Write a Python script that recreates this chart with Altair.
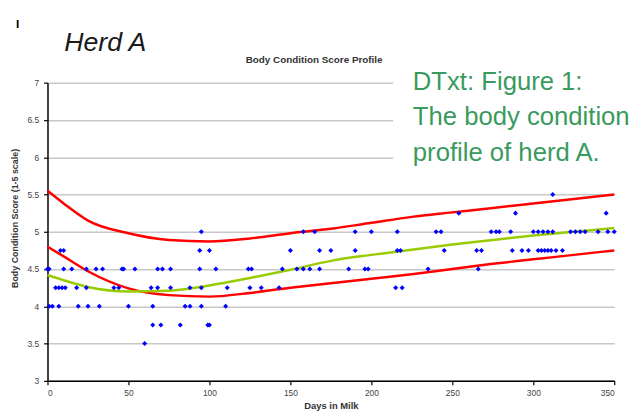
import altair as alt
import pandas as pd

# ---- data ----
pts_55 = [312]
pts_525 = [254, 289, 345]
pts_50 = [95, 158, 165, 190, 200, 216, 240, 243, 274, 277, 279, 286, 300, 303, 306,
          309, 312, 323, 326, 329, 332, 340, 346, 350]
pts_475 = [8, 10, 94, 100, 150, 168, 175, 190, 216, 218, 245, 265, 268, 287, 293, 297,
           303, 305, 307, 309, 311, 314, 318]
pts_45 = [0, 1, 10, 15, 24, 30, 34, 46, 47, 54, 68, 71, 76, 94, 104, 124, 126, 145, 154,
          158, 162, 168, 186, 196, 198, 235, 266]
pts_425 = [5, 7, 9, 11, 18, 24, 41, 44, 64, 68, 76, 88, 95, 111, 125, 132, 143, 215, 219]
pts_40 = [1, 3, 7, 19, 25, 32, 50, 65, 85, 88, 95, 110]
pts_375 = [65, 70, 82, 99, 100]
pts_35 = [60]

curve_days = [0, 10, 25, 50, 75, 100, 125, 150, 175, 200, 225, 250, 275, 300, 325, 350]
upper_red = [5.55, 5.38, 5.15, 4.98, 4.89, 4.87, 4.91, 4.98, 5.04, 5.12, 5.20, 5.26, 5.32, 5.38, 5.44, 5.50]
lower_red = [4.80, 4.67, 4.47, 4.24, 4.15, 4.13, 4.18, 4.25, 4.31, 4.37, 4.43, 4.50, 4.57, 4.63, 4.69, 4.75]
green_fit = [4.42, 4.35, 4.26, 4.20, 4.21, 4.28, 4.38, 4.49, 4.61, 4.69, 4.76, 4.83, 4.89, 4.95, 5.00, 5.05]

x_ticks = [0, 50, 100, 150, 200, 250, 300, 350]
y_ticks = [3, 3.5, 4, 4.5, 5, 5.5, 6, 6.5, 7]

chart_title = "Body Condition Score Profile"
x_title = "Days in Milk"
y_title = "Body Condition Score (1-5 scale)"
herd_label = "Herd A"
note_lines = "DTxt: Figure 1:\nThe body condition\nprofile of herd A."

# ---- tables ----
rows = []
for score, days in [(5.5, pts_55), (5.25, pts_525), (5.0, pts_50), (4.75, pts_475),
                    (4.5, pts_45), (4.25, pts_425), (4.0, pts_40), (3.75, pts_375), (3.5, pts_35)]:
    for d in days:
        rows.append({"day": d, "score": score})
points_df = pd.DataFrame(rows)

curves = []
for name, vals in [("upper", upper_red), ("lower", lower_red), ("fit", green_fit)]:
    for d, v in zip(curve_days, vals):
        curves.append({"day": d, "score": v, "curve": name})
curves_df = pd.DataFrame(curves)

FONT = "Liberation Sans"

xscale = alt.Scale(domain=[0, 350], nice=False, zero=False)
yscale = alt.Scale(domain=[3, 7], nice=False, zero=False)

x_enc = alt.X("day:Q", scale=xscale, axis=alt.Axis(
    values=x_ticks, title=x_title, grid=False, tickSize=4, labelPadding=4,
    titlePadding=3, labelFontSize=8.5, titleFontSize=9.5, titleFontWeight="bold",
    labelColor="#444", titleColor="#333", domainColor="#000", tickColor="#000",
    domainWidth=1.5, tickWidth=1.2, format="d"))
y_enc = alt.Y("score:Q", scale=yscale, axis=alt.Axis(
    values=y_ticks, title=y_title, grid=True, gridColor="#c8c8c8", gridWidth=1.5,
    tickSize=4, labelPadding=5, labelFontSize=8.5, titleFontSize=9,
    titleFontWeight="bold", labelColor="#444", titleColor="#333",
    domainColor="#000", tickColor="#000", domainWidth=1.5, tickWidth=1.2,
    format="~g", titleX=-33, titleY=137, titleBaseline="middle"))

base_curves = alt.Chart(curves_df)

red_lines = base_curves.transform_filter(
    alt.FieldOneOfPredicate(field="curve", oneOf=["upper", "lower"])
).mark_line(color="#ff0000", strokeWidth=2.5, interpolate="monotone").encode(
    x=x_enc, y=y_enc, detail="curve:N")

green_line = base_curves.transform_filter(
    alt.FieldEqualPredicate(field="curve", equal="fit")
).mark_line(color="#99cc00", strokeWidth=2.5, interpolate="monotone").encode(
    x=x_enc, y=y_enc)

scatter = alt.Chart(points_df).mark_point(
    shape="diamond", filled=True, color="#0000ff", size=26, opacity=1
).encode(x=x_enc, y=y_enc)

white_box = alt.Chart(pd.DataFrame({"k": [1]})).mark_rect(color="white").encode(
    x=alt.value(350), x2=alt.value(596), y=alt.value(-25), y2=alt.value(94))

title_txt = alt.Chart(pd.DataFrame({"t": [chart_title]})).mark_text(
    font=FONT, fontSize=10, fontWeight="bold", color="#333", align="center",
    baseline="middle").encode(text="t:N", x=alt.value(270), y=alt.value(-23))

herd_txt = alt.Chart(pd.DataFrame({"t": [herd_label]})).mark_text(
    font=FONT, fontSize=27, fontStyle="italic", color="#1a1a1a", align="left",
    baseline="alphabetic").encode(text="t:N", x=alt.value(17), y=alt.value(-32))

mark_txt = alt.Chart(pd.DataFrame({"t": ["I"]})).mark_text(
    font=FONT, fontSize=12, fontWeight="bold", color="#000", align="left",
    baseline="alphabetic").encode(text="t:N", x=alt.value(-32), y=alt.value(-55))

note_txt = alt.Chart(pd.DataFrame({"t": [note_lines]})).mark_text(
    font=FONT, fontSize=26, color="#3a9a5e", align="left", baseline="alphabetic",
    lineBreak="\n", lineHeight=36).encode(text="t:N", x=alt.value(370), y=alt.value(7))

chart = alt.layer(
    white_box, red_lines, green_line, scatter, title_txt, herd_txt, mark_txt, note_txt
).properties(
    width=574, height=302,
    autosize=alt.AutoSizeParams(type="none"),
    padding={"left": 40, "top": 73, "right": 22, "bottom": 36},
).configure_view(stroke=None).configure_axis(labelFont=FONT, titleFont=FONT)

chart.save("out.html", embed_options={"renderer": "svg", "actions": False})
